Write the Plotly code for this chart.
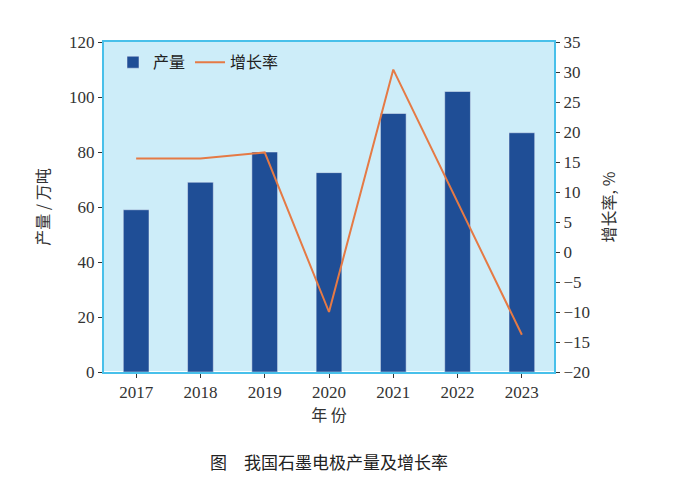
import plotly.graph_objects as go

YEARS = ["2017", "2018", "2019", "2020", "2021", "2022", "2023"]
OUTPUT = [59, 69, 80, 72.5, 94, 102, 87]          # 万吨
GROWTH = [15.6, 15.6, 16.6, -10, 30.4, 8.2, -13.8]  # %

CJK = "Noto Sans CJK SC"
SERIF = "Liberation Serif"

fig = go.Figure()
fig.add_trace(go.Bar(x=YEARS, y=OUTPUT, name="产量", marker_color="#1f4e96",
                     width=0.4))
fig.add_trace(go.Scatter(x=YEARS, y=GROWTH, name="增长率", yaxis="y2",
                         mode="lines", line=dict(color="#e57a45", width=2)))

fig.update_layout(
    width=674, height=494,
    margin=dict(l=96, r=128, t=34, b=130, autoexpand=False),
    paper_bgcolor="white",
    plot_bgcolor="#cdedf9",
    showlegend=True,
    legend=dict(orientation="h", x=0.02, y=0.99, xanchor="left", yanchor="top",
                bgcolor="rgba(0,0,0,0)", font=dict(family=CJK, size=16, color="#222")),
    xaxis=dict(title=dict(text="年 份", font=dict(family=CJK, size=16, color="#333"),
                          standoff=4),
               tickfont=dict(family=SERIF, size=17, color="#333"),
               showline=True, linecolor="#48c0ea", linewidth=2, mirror=True,
               ticks="outside", tickcolor="#333", ticklen=4),
    yaxis=dict(title=dict(text="产量 / 万吨", font=dict(family=CJK, size=16, color="#333")),
               range=[0, 120], dtick=20, showgrid=False,
               tickfont=dict(family=SERIF, size=17, color="#333"),
               showline=True, linecolor="#48c0ea", linewidth=2,
               ticks="outside", tickcolor="#333", ticklen=4),
    yaxis2=dict(title=dict(text="增长率, %", font=dict(family=CJK, size=16, color="#333")),
                overlaying="y", side="right", range=[-20, 35], dtick=5,
                showgrid=False, zeroline=False,
                tickfont=dict(family=SERIF, size=17, color="#333"),
                showline=True, linecolor="#48c0ea", linewidth=2,
                ticks="outside", tickcolor="#333", ticklen=4),
    annotations=[dict(text="图　我国石墨电极产量及增长率", xref="paper", yref="paper",
                      x=0.5, y=-0.27, xanchor="center", yanchor="middle",
                      showarrow=False, font=dict(family=CJK, size=17, color="#222"))],
)

fig.write_html("out.html")
